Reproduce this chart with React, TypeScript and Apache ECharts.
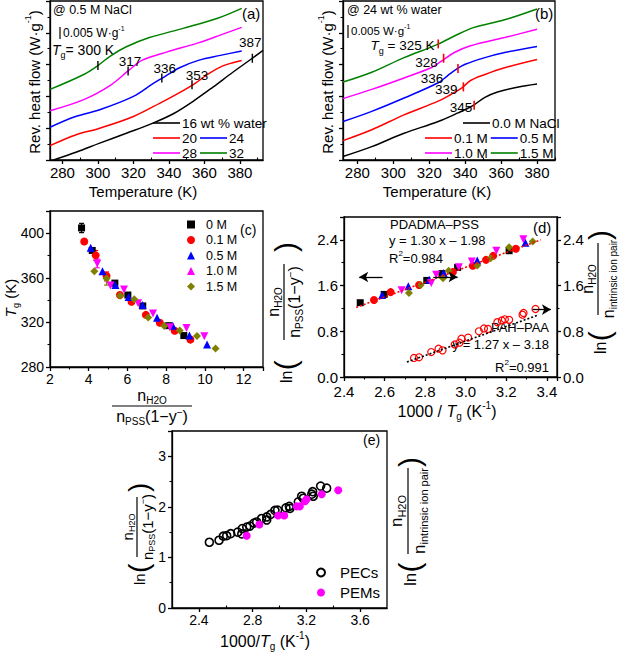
import React, { useEffect, useRef } from 'react';
import * as echarts from 'echarts';

const FONT = '"Liberation Sans", Arial, Helvetica, sans-serif';
const BLK = '#000000', RED = '#ff0000', BLUE = '#0000ff', MAG = '#ff00ff', GRN = '#008000', OLV = '#808000';

// ---------- (a) @ 0.5 M NaCl : T (K) vs rev. heat flow (offset units) ----------
const aNames = ['16 wt % water', '20', '24', '28', '32'];
const aColors = [BLK, RED, BLUE, MAG, GRN];
const aW16 = [[275, 0.0], [288, 0.25], [301, 0.53], [316, 0.84], [331, 1.16], [343, 1.47], [354, 1.86], [365, 2.3], [376, 2.76], [387, 3.2], [393, 3.45]];
const aW20 = [[273, 0.45], [287, 0.78], [301, 1.0], [320, 1.37], [335, 1.79], [346, 2.12], [355, 2.42], [362, 2.7], [370, 2.95], [376, 3.06], [381, 3.13]];
const aW24 = [[273, 1.03], [287, 1.36], [301, 1.58], [320, 2.0], [331, 2.4], [337, 2.6], [346, 2.9], [357, 3.14], [369, 3.29], [381, 3.43]];
const aW28 = [[273, 1.55], [292, 1.9], [307, 2.35], [317, 2.8], [325, 3.14], [339, 3.4], [357, 3.69], [370, 3.95], [381, 4.17]];
const aW32 = [[273, 2.22], [292, 2.69], [300, 2.97], [307, 3.27], [316, 3.56], [329, 3.85], [348, 4.14], [367, 4.45], [381, 4.77]];
const aCurves = [aW16, aW20, aW24, aW28, aW32];
const aTg = [[300, 2.97], [317, 2.8], [336, 2.58], [353, 2.37], [387, 3.2]];
const aTgLabels = ['', '317', '336', '353', '387'];

// ---------- (b) @ 24 wt % water ----------
const bNames = ['0.0 M NaCl', '0.1 M', '0.5 M', '1.0 M', '1.5 M'];
const bColors = [BLK, RED, BLUE, MAG, GRN];
const bM00 = [[272, 0.11], [288, 0.42], [306, 0.84], [325, 1.21], [336, 1.48], [344, 1.7], [351, 1.97], [358, 2.14], [369, 2.29], [380, 2.39]];
const bM01 = [[272, 0.61], [288, 0.95], [306, 1.42], [325, 1.85], [332, 2.06], [338, 2.26], [343, 2.5], [351, 2.69], [362, 2.9], [380, 3.16]];
const bM05 = [[272, 1.21], [288, 1.53], [306, 1.95], [325, 2.43], [330, 2.64], [335, 2.85], [340, 3.01], [351, 3.22], [362, 3.38], [380, 3.57]];
const bM10 = [[272, 1.93], [288, 2.22], [306, 2.58], [321, 2.9], [327, 3.12], [334, 3.38], [343, 3.59], [362, 3.85], [380, 4.11]];
const bM15 = [[272, 2.45], [288, 2.76], [306, 3.22], [324, 3.62], [334, 3.9], [345, 4.17], [362, 4.41], [380, 4.75]];
const bCurves = [bM00, bM01, bM05, bM10, bM15];
const bTg = [[325, 3.65], [328, 3.2], [336, 2.88], [339, 2.3], [345, 1.72]];
const bTgLabels = ['{i|T}{s|g} = 325 K', '328', '336', '339', '345'];

// ---------- (c) Tg vs n_H2O / n_PSS(1-y) ----------
const cNames = ['0 M', '0.1 M', '0.5 M', '1.0 M', '1.5 M'];
const cColors = [BLK, RED, BLUE, MAG, OLV];
const cSymbols = ['rect', 'circle', 'triangle', 'triangle', 'diamond'];
const cRotate = [0, 0, 0, 180, 0];
const c0M = [[3.63, 404.8], [4.18, 384.6], [5.35, 355.3], [6.02, 344.6], [6.79, 334.8], [8.13, 317.1], [8.91, 308.2]];
const c01M = [[3.77, 392.6], [4.36, 380.2], [4.92, 361.8], [5.61, 344.6], [6.21, 338.5], [6.95, 326.8], [7.67, 319.7], [8.44, 312.6], [9.25, 304.6]];
const c05M = [[4.1, 387.0], [4.71, 365.9], [5.38, 353.5], [6.06, 342.8], [6.78, 335.7], [7.53, 324.2], [8.34, 317.1], [9.2, 308.2], [10.11, 300.2]];
const c10M = [[4.44, 372.8], [5.12, 353.1], [5.82, 349.5], [6.55, 337.2], [7.32, 328.0], [8.19, 315.7], [9.05, 315.0], [9.97, 307.6]];
const c15M = [[4.29, 366.0], [4.92, 359.5], [5.62, 344.0], [6.35, 340.8], [7.07, 324.4], [7.9, 316.9], [8.7, 312.8], [9.59, 307.8], [10.55, 296.6]];
const cData = [c0M, c01M, c05M, c10M, c15M];
// x, low, high, series index
const cErr = [[3.63, 400.6, 408.9, 0], [4.36, 375.7, 384.6, 1], [4.92, 357.3, 365.3, 1], [4.92, 353.5, 362.0, 4], [4.44, 369.0, 377.0, 3]];

// ---------- (d) ln(...) vs 1000/Tg ----------
const d0M = [[2.48, 1.3], [2.598, 1.445], [2.808, 1.69], [2.883, 1.81], [2.96, 1.917], [3.214, 2.21]];
const d01M = [[2.548, 1.347], [2.63, 1.485], [2.77, 1.61], [2.937, 1.836], [3.035, 1.946], [3.1, 2.05], [3.135, 2.12], [3.247, 2.245]];
const d05M = [[2.588, 1.434], [2.717, 1.59], [2.82, 1.7], [2.891, 1.82], [3.057, 2.04], [3.294, 2.35]];
const d10M = [[2.684, 1.52], [2.83, 1.646], [2.854, 1.79], [2.966, 1.92], [3.03, 2.02], [3.151, 2.21], [3.284, 2.41]];
const d15M = [[2.72, 1.47], [2.778, 1.61], [2.888, 1.73], [2.916, 1.86], [3.057, 1.95], [3.123, 2.08], [3.214, 2.27], [3.33, 2.37]];
const dData = [d0M, d01M, d05M, d10M, d15M];
const dPahPaa = [[2.745, 0.333], [2.77, 0.345], [2.83, 0.437], [2.866, 0.495], [2.886, 0.466], [2.946, 0.57], [2.969, 0.6], [2.979, 0.67], [3.012, 0.69], [3.065, 0.8], [3.09, 0.85], [3.11, 0.84], [3.156, 0.96], [3.178, 0.99], [3.193, 1.01], [3.214, 1.0], [3.28, 1.09], [3.285, 1.12], [3.344, 1.19]];
const dFitPss = [1.30, -1.98];
const dFitPssRange = [2.46, 3.37];
const dFitPah = [1.27, -3.18];
const dFitPahRange = [2.71, 3.36];
const dArrows = [[[2.59, 1.75], [2.475, 1.75]], [[2.84, 1.75], [2.96, 1.75]], [[3.33, 1.18], [3.42, 1.18]]];

// ---------- (e) ----------
const ePECs = [[2.478, 1.3], [2.55, 1.34], [2.582, 1.42], [2.607, 1.43], [2.637, 1.47], [2.689, 1.5], [2.719, 1.465], [2.723, 1.57], [2.756, 1.6], [2.78, 1.62], [2.81, 1.68], [2.83, 1.7], [2.867, 1.77], [2.905, 1.74], [2.905, 1.8], [2.934, 1.85], [2.966, 1.93], [2.986, 1.935], [3.048, 1.98], [3.073, 2.01], [3.078, 1.97], [3.14, 2.1], [3.165, 2.21], [3.177, 2.17], [3.24, 2.25], [3.247, 2.3], [3.251, 2.21], [3.306, 2.41], [3.351, 2.37]];
const ePEMs = [[2.756, 1.43], [2.85, 1.65], [2.99, 1.83], [3.035, 1.83], [3.128, 2.01], [3.152, 2.01], [3.19, 2.11], [3.202, 2.15], [3.314, 2.25], [3.437, 2.33]];

// tick value lists
const tTicks = [280, 300, 320, 340, 360, 380];
const tMinor = [290, 310, 330, 350, 370, 390];
const eTicks = [2.4, 2.8, 3.2, 3.6];
const eMinor = [2.6, 3.0, 3.4];

// ---------------- helpers ----------------
function rich(fs: number, lh = 1.35) {
  return {
    n: { fontSize: fs, fontFamily: FONT, lineHeight: fs * lh, fill: '#000', color: '#000' },
    i: { fontSize: fs, fontFamily: FONT, fontStyle: 'italic', lineHeight: fs * lh, fill: '#000', color: '#000' },
    s: { fontSize: Math.round(fs * 0.62), fontFamily: FONT, verticalAlign: 'bottom', fill: '#000', color: '#000' },
    u: { fontSize: Math.round(fs * 0.62), fontFamily: FONT, verticalAlign: 'top', fill: '#000', color: '#000' },
  };
}
function txt(x: number, y: number, text: string, fs: number, align = 'left', vAlign = 'middle', rot = 0) {
  return {
    type: 'text', x, y, rotation: rot, silent: true,
    style: {
      text, fontSize: fs, fontFamily: FONT, fill: '#000', lineHeight: fs * 1.35,
      textAlign: align, textVerticalAlign: vAlign, align, verticalAlign: vAlign, rich: rich(fs),
    },
  };
}
type FracOpt = { x: number; y: number; rot: number; fs: number; num: string; den: string; fracAt: number; lineW: number; lnAt?: number; closeAt?: number; pfs?: number };
function frac(o: FracOpt) {
  const r = rich(o.fs, 1.2);
  const ch: any[] = [];
  const pfs = o.pfs || 30;
  if (o.lnAt !== undefined) {
    ch.push({ type: 'text', x: o.lnAt, y: 2, style: { text: 'ln', fontSize: o.fs, fontFamily: FONT, fill: '#000', textAlign: 'left', textVerticalAlign: 'middle', align: 'left', verticalAlign: 'middle' } });
    ch.push({ type: 'text', x: o.lnAt + o.fs * 0.8, y: 1, style: { text: '(', fontSize: pfs, fontFamily: FONT, fill: '#000', textAlign: 'left', textVerticalAlign: 'middle', align: 'left', verticalAlign: 'middle' } });
  }
  ch.push({ type: 'line', shape: { x1: o.fracAt - o.lineW / 2, y1: 0, x2: o.fracAt + o.lineW / 2, y2: 0 }, style: { stroke: '#000', lineWidth: 1.2 } });
  ch.push({ type: 'text', x: o.fracAt, y: -1, style: { text: o.num, rich: r, fontSize: o.fs, fontFamily: FONT, fill: '#000', textAlign: 'center', textVerticalAlign: 'bottom', align: 'center', verticalAlign: 'bottom' } });
  ch.push({ type: 'text', x: o.fracAt, y: 1, style: { text: o.den, rich: r, fontSize: o.fs, fontFamily: FONT, fill: '#000', textAlign: 'center', textVerticalAlign: 'top', align: 'center', verticalAlign: 'top' } });
  if (o.closeAt !== undefined) {
    ch.push({ type: 'text', x: o.closeAt, y: 1, style: { text: ')', fontSize: pfs, fontFamily: FONT, fill: '#000', textAlign: 'left', textVerticalAlign: 'middle', align: 'left', verticalAlign: 'middle' } });
  }
  return { type: 'group', x: o.x, y: o.y, rotation: o.rot, silent: true, children: ch };
}

const AX_LINE = { show: true, onZero: false, lineStyle: { color: '#000', width: 1.3 } };
const TICK = { show: true, length: 4, lineStyle: { color: '#000', width: 1.3 } };
const MINOR = { show: true, splitNumber: 2, length: 2.5, lineStyle: { color: '#000', width: 1.1 } };
function lab(fs: number, extra: any = {}) {
  return { color: '#000', fontFamily: FONT, fontSize: fs, margin: 5, ...extra };
}
const TG_RICH = { i: { fontStyle: 'italic', fontSize: 13.5, fontFamily: FONT, lineHeight: 19, color: '#000' }, s: { fontSize: 9, fontFamily: FONT, verticalAlign: 'bottom', color: '#000' }, n: { fontSize: 13.5, fontFamily: FONT, color: '#000' } };
const LBL = { color: '#000000', opacity: 1, fontFamily: FONT, fontSize: 13.5, textBorderWidth: 0, textShadowBlur: 0, rich: TG_RICH };

const NUM_H2O = '{n|n}{s|H2O}';
const DEN_PSS = '{n|n}{s|PSS}{n|(1−y}{u|−}{n|)}';
const DEN_IIP = '{n|n}{s|intrinsic ion pair}';

function buildOption() {
  const series: any[] = [];
  // (a)
  aCurves.forEach((d, k) => series.push({
    type: 'line', name: 'a:' + aNames[k], xAxisIndex: 0, yAxisIndex: 0, data: d, smooth: 0.35,
    showSymbol: false, color: aColors[k], lineStyle: { color: aColors[k], width: 1.5 },
  }));
  series.push({
    type: 'scatter', name: 'aTg', xAxisIndex: 0, yAxisIndex: 0, symbol: 'rect', symbolSize: [1.4, 9],
    itemStyle: { color: BLK, opacity: 1 }, z: 5, label: { ...LBL },
    data: aTg.map((p, k) => ({
      value: p,
      label: {
        ...LBL, show: aTgLabels[k] !== '', formatter: '{n|' + (aTgLabels[k] || ' ') + '}', position: 'top', distance: -2,
        offset: [[0, 0], [2, 0], [3, 0], [5, 0], [-2, -6]][k],
      },
    })),
  });
  // (b)
  bCurves.forEach((d, k) => series.push({
    type: 'line', name: 'b:' + bNames[k], xAxisIndex: 1, yAxisIndex: 1, data: d, smooth: 0.35,
    showSymbol: false, color: bColors[k], lineStyle: { color: bColors[k], width: 1.5 },
  }));
  series.push({
    type: 'scatter', name: 'bTg', xAxisIndex: 1, yAxisIndex: 1, symbol: 'rect', symbolSize: [1.6, 9],
    itemStyle: { color: RED, opacity: 1 }, z: 5, label: { ...LBL },
    data: bTg.map((p, k) => ({
      value: p,
      label: {
        ...LBL, show: true, formatter: k === 0 ? bTgLabels[k] : '{n|' + bTgLabels[k] + '}', position: 'left',
        distance: [3, 5, 3, 5, 1][k], offset: [[0, 2], [0, 4], [-11, 10], [0, 3], [0, 2]][k],
      },
    })),
  });
  // (c)
  series.push({
    type: 'custom', name: 'cErr', xAxisIndex: 2, yAxisIndex: 2, data: cErr, z: 1,
    encode: { x: 0, y: [1, 2] },
    renderItem: (params: any, api: any) => {
      const x = api.value(0), lo = api.value(1), hi = api.value(2), ci = api.value(3);
      const p1 = api.coord([x, lo]), p2 = api.coord([x, hi]);
      const st = { stroke: cColors[ci], lineWidth: 1.2 };
      return {
        type: 'group', children: [
          { type: 'line', shape: { x1: p1[0], y1: p1[1], x2: p2[0], y2: p2[1] }, style: st },
          { type: 'line', shape: { x1: p1[0] - 2.5, y1: p1[1], x2: p1[0] + 2.5, y2: p1[1] }, style: st },
          { type: 'line', shape: { x1: p2[0] - 2.5, y1: p2[1], x2: p2[0] + 2.5, y2: p2[1] }, style: st },
        ],
      };
    },
  });
  cData.forEach((d, k) => series.push({
    type: 'scatter', name: 'c:' + cNames[k], xAxisIndex: 2, yAxisIndex: 2, data: d,
    symbol: cSymbols[k], symbolRotate: cRotate[k], symbolSize: k === 0 ? 7 : 8, itemStyle: { color: cColors[k], opacity: 1 }, z: 3,
  }));
  // (d)
  series.push({
    type: 'line', name: 'dFitPss', xAxisIndex: 3, yAxisIndex: 3, showSymbol: false, z: 4,
    data: dFitPssRange.map(x => [x, dFitPss[0] * x + dFitPss[1]]),
    lineStyle: { color: RED, width: 1.6, type: [2, 2] },
    markLine: {
      silent: true, symbol: ['none', 'arrow'], symbolSize: [8, 9], label: { show: false },
      lineStyle: { color: BLK, width: 1.3, type: 'solid' },
      data: dArrows.map(a => [{ coord: a[0] }, { coord: a[1] }]),
    },
  });
  series.push({
    type: 'line', name: 'dFitPah', xAxisIndex: 3, yAxisIndex: 3, showSymbol: false, z: 4,
    data: dFitPahRange.map(x => [x, dFitPah[0] * x + dFitPah[1]]),
    lineStyle: { color: BLK, width: 1.6, type: [2, 2] },
  });
  dData.forEach((d, k) => series.push({
    type: 'scatter', name: 'd:' + cNames[k], xAxisIndex: 3, yAxisIndex: 3, data: d,
    symbol: cSymbols[k], symbolRotate: cRotate[k], symbolSize: k === 0 ? 7 : 8, itemStyle: { color: cColors[k], opacity: 1 }, z: 3,
  }));
  series.push({
    type: 'scatter', name: 'dPah', xAxisIndex: 3, yAxisIndex: 4, data: dPahPaa, symbol: 'circle', symbolSize: 7,
    itemStyle: { color: 'rgba(255,255,255,0)', borderColor: RED, borderWidth: 1.2, opacity: 1 }, z: 3,
  });
  // (e)
  series.push({
    type: 'scatter', name: 'e:PECs', xAxisIndex: 4, yAxisIndex: 5, data: ePECs, symbol: 'circle', symbolSize: 8,
    itemStyle: { color: 'rgba(255,255,255,0)', borderColor: BLK, borderWidth: 1.6, opacity: 1 }, z: 3,
  });
  series.push({
    type: 'scatter', name: 'e:PEMs', xAxisIndex: 4, yAxisIndex: 5, data: ePEMs, symbol: 'circle', symbolSize: 8,
    itemStyle: { color: MAG, opacity: 1 }, z: 4,
  });

  const gridBox = { show: true, borderColor: '#000', borderWidth: 1.3, backgroundColor: 'transparent', containLabel: false };
  const grid = [
    { ...gridBox, left: 50, top: 1, width: 213, height: 159 },
    { ...gridBox, left: 343, top: 1, width: 212, height: 159 },
    { ...gridBox, left: 50, top: 211, width: 213, height: 156 },
    { ...gridBox, left: 344, top: 217, width: 213, height: 160 },
    { ...gridBox, left: 172, top: 431, width: 215, height: 177 },
  ];

  const tAxis = (g: number, min: number, max: number) => ({
    type: 'value', gridIndex: g, min, max, axisLine: AX_LINE, splitLine: { show: false },
    axisTick: { ...TICK, customValues: tTicks }, axisLabel: lab(15, { customValues: tTicks, margin: 5 }),
  });
  const minorAxis = (g: number, min: number, max: number, vals: number[]) => ({
    type: 'value', gridIndex: g, min, max, axisLine: { show: false }, splitLine: { show: false },
    axisTick: { show: true, length: 2.5, lineStyle: { color: '#000', width: 1.1 }, customValues: vals },
    axisLabel: { show: false, customValues: vals },
  });
  const xAxis = [
    tAxis(0, 273, 393),
    tAxis(1, 272, 390),
    {
      type: 'value', gridIndex: 2, min: 2, max: 13, interval: 2, axisLine: AX_LINE, axisTick: TICK, minorTick: MINOR,
      splitLine: { show: false }, axisLabel: lab(14, { showMaxLabel: false }),
    },
    {
      type: 'value', gridIndex: 3, min: 2.4, max: 3.45, interval: 0.2, axisLine: AX_LINE, axisTick: TICK, minorTick: MINOR,
      splitLine: { show: false }, axisLabel: lab(15, { showMaxLabel: false, margin: 7, formatter: (v: number) => v.toFixed(1) }),
    },
    {
      type: 'value', gridIndex: 4, min: 2.2, max: 3.8, axisLine: AX_LINE, splitLine: { show: false },
      axisTick: { ...TICK, customValues: eTicks }, axisLabel: lab(14, { customValues: eTicks, formatter: (v: number) => v.toFixed(1) }),
    },
    minorAxis(0, 273, 393, tMinor),
    minorAxis(1, 272, 390, tMinor),
    minorAxis(4, 2.2, 3.8, eMinor),
  ];
  const hfAxis = (g: number) => ({
    type: 'value', gridIndex: g, min: 0, max: 5, interval: 1, axisLine: AX_LINE, axisTick: TICK, minorTick: MINOR,
    splitLine: { show: false }, axisLabel: { show: false },
  });
  const dY = (pos: string) => ({
    type: 'value', gridIndex: 3, position: pos, min: 0, max: 2.8, interval: 0.8, axisLine: AX_LINE, axisTick: TICK,
    minorTick: MINOR, splitLine: { show: false }, axisLabel: lab(15, { showMaxLabel: false, margin: 6, formatter: (v: number) => v.toFixed(1) }),
  });
  const yAxis = [
    hfAxis(0),
    hfAxis(1),
    {
      type: 'value', gridIndex: 2, min: 280, max: 420, interval: 40, axisLine: AX_LINE, axisTick: TICK, minorTick: MINOR,
      splitLine: { show: false }, axisLabel: lab(14, { showMaxLabel: false, margin: 6 }),
    },
    dY('left'),
    dY('right'),
    {
      type: 'value', gridIndex: 4, min: 0, max: 3.5, interval: 1, axisLine: AX_LINE, axisTick: TICK, minorTick: MINOR,
      splitLine: { show: false }, axisLabel: lab(14, { showMaxLabel: false, margin: 6 }),
    },
  ];

  const strip = (n: string) => n.slice(2);
  const lineLeg = {
    icon: 'rect', itemWidth: 27, itemHeight: 1.6, itemGap: 3, padding: 0, selectedMode: false,
    textStyle: { fontFamily: FONT, fontSize: 13.5, color: '#000', padding: [0, 0, 0, -3] }, formatter: strip,
  };
  const legend = [
    { ...lineLeg, left: 153, top: 116, data: ['a:' + aNames[0]] },
    { ...lineLeg, left: 153, top: 131, data: ['a:' + aNames[1], 'a:' + aNames[2]] },
    { ...lineLeg, left: 153, top: 146, data: ['a:' + aNames[3], 'a:' + aNames[4]] },
    { ...lineLeg, left: 463, top: 116, data: ['b:' + bNames[0]] },
    { ...lineLeg, left: 425, top: 131, data: ['b:' + bNames[1], 'b:' + bNames[2]] },
    { ...lineLeg, left: 425, top: 146, data: ['b:' + bNames[3], 'b:' + bNames[4]] },
    {
      left: 187, top: 218, orient: 'vertical', itemWidth: 8, itemHeight: 8, itemGap: 2.5, padding: 0, selectedMode: false,
      textStyle: { fontFamily: FONT, fontSize: 12.5, color: '#000', padding: [0, 0, 0, 6] }, formatter: strip,
      data: cNames.map(n => 'c:' + n),
    },
    {
      left: 316, top: 565, orient: 'vertical', itemWidth: 8, itemHeight: 8, itemGap: 5, padding: 0, selectedMode: false,
      textStyle: { fontFamily: FONT, fontSize: 15, color: '#000', padding: [0, 0, 0, 10] }, formatter: strip,
      data: ['e:PECs', 'e:PEMs'],
    },
  ];

  const graphic: any[] = [
    // (a)
    txt(53, 10, '@ 0.5 M NaCl', 12.5),
    txt(242, 13, '(a)', 15),
    { type: 'line', silent: true, shape: { x1: 60, y1: 27, x2: 60, y2: 39 }, style: { stroke: '#000', lineWidth: 1.2 } },
    txt(63, 33, '0.005 W·g{u|-1}', 12),
    txt(52, 50, '{i|T}{s|g}= 300 K', 14),
    txt(143, 191, 'Temperature (K)', 15, 'center'),
    txt(34, 82, 'Rev. heat flow (W·g{u|-1})', 15, 'center', 'middle', Math.PI / 2),
    // (b)
    txt(347, 10, '@ 24 wt % water', 12.5),
    txt(535, 13, '(b)', 15),
    { type: 'line', silent: true, shape: { x1: 348, y1: 25, x2: 348, y2: 38 }, style: { stroke: '#000', lineWidth: 1.2 } },
    txt(351, 31, '0.005 W·g{u|-1}', 11.5),
    txt(437, 191, 'Temperature (K)', 15, 'center'),
    txt(327, 82, 'Rev. heat flow (W·g{u|-1})', 15, 'center', 'middle', Math.PI / 2),
    // (c)
    txt(240, 230, '(c)', 14),
    txt(10, 298, '{i|T}{s|g} (K)', 15, 'center', 'middle', Math.PI / 2),
    frac({ x: 152, y: 406, rot: 0, fs: 16, num: NUM_H2O, den: DEN_PSS, fracAt: 0, lineW: 80 }),
    // (d)
    txt(390, 224, 'PDADMA–PSS', 13),
    txt(389, 240, 'y = 1.30 x – 1.98', 13),
    txt(389, 258, 'R{u|2}=0.984', 13),
    txt(533, 227, '(d)', 15),
    txt(549, 327, 'PAH–PAA', 13, 'right'),
    txt(549, 344, 'y = 1.27 x – 3.18', 13, 'right'),
    txt(549, 367, 'R{u|2}=0.991', 13, 'right'),
    txt(447, 411, '1000 / {i|T}{s|g} (K{u|-1})', 16, 'center'),
    frac({ x: 284, y: 306, rot: Math.PI / 2, fs: 16, num: NUM_H2O, den: DEN_PSS, lnAt: -77, fracAt: 4, lineW: 76, closeAt: 54 }),
    frac({ x: 598, y: 292, rot: Math.PI / 2, fs: 16, num: NUM_H2O, den: DEN_IIP, lnAt: -62, fracAt: 13, lineW: 72, closeAt: 52 }),
    // (e)
    txt(363, 440, '(e)', 14),
    txt(265, 641, '1000/{i|T}{s|g} (K{u|-1})', 16, 'center'),
    frac({ x: 137, y: 525, rot: Math.PI / 2, fs: 15, num: NUM_H2O, den: DEN_PSS, lnAt: -60, fracAt: -2, lineW: 60, closeAt: 33, pfs: 28 }),
    frac({ x: 408, y: 520, rot: Math.PI / 2, fs: 17, num: NUM_H2O, den: DEN_IIP, lnAt: -66, fracAt: 9, lineW: 86, closeAt: 53, pfs: 30 }),
  ];

  return {
    animation: false,
    backgroundColor: '#ffffff',
    textStyle: { fontFamily: FONT },
    grid, xAxis, yAxis, legend, series, graphic,
  };
}

export default function App() {
  const ref = useRef<HTMLDivElement>(null);
  useEffect(() => {
    if (!ref.current) return;
    const chart = echarts.init(ref.current, undefined, { renderer: 'svg' });
    chart.setOption(buildOption() as any);
    return () => chart.dispose();
  }, []);
  return <div ref={ref} style={{ position: 'absolute', left: 0, top: 0, width: 625, height: 658 }} />;
}
